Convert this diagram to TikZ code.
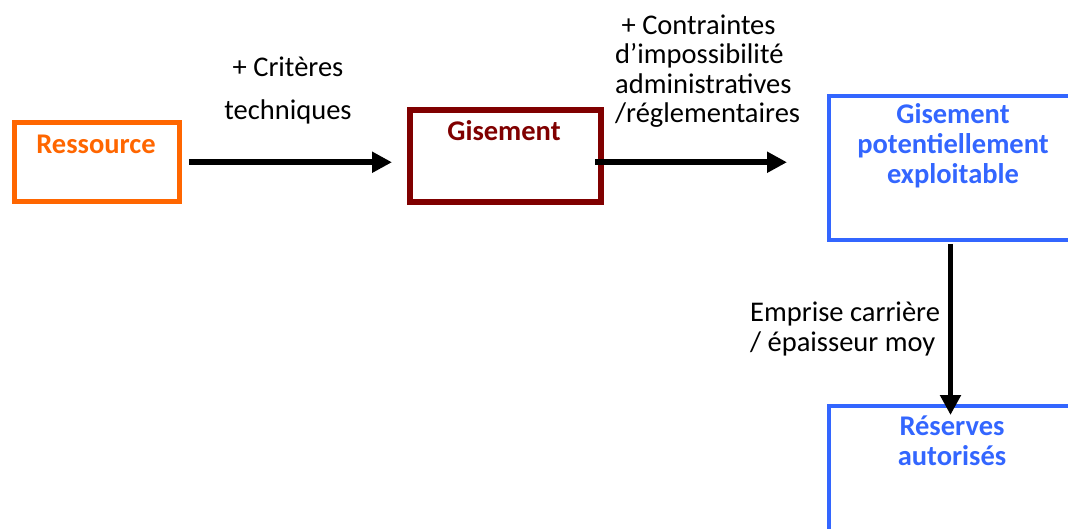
\documentclass[tikz,border=0pt]{standalone}
\usepackage{fontspec}
\setmainfont{Carlito}
\usetikzlibrary{arrows.meta}
\definecolor{resorange}{RGB}{255,102,0}
\definecolor{gisred}{RGB}{128,0,0}
\definecolor{gpeblue}{RGB}{51,102,255}
\tikzset{
  boxnode/.style={draw, rectangle, inner sep=0pt, outer sep=0pt},
  boxtext/.style={font=\fontsize{28.5}{30}\selectfont\bfseries, align=center, inner sep=0pt},
  lbl/.style={font=\fontsize{28.5}{29.5}\selectfont, inner sep=0pt},
  flow/.style={line width=5.5pt, -{Triangle[length=20pt,width=20pt]}}
}
\begin{document}
\begin{tikzpicture}[x=1pt,y=-1pt]
\useasboundingbox (0,0) rectangle (1068,529);
\begin{scope}
\clip (0,0) rectangle (1068,529);
% boxes
\node[boxnode, draw=resorange, line width=5pt, minimum width=164.5pt, minimum height=79.5pt] (res) at (96.75,162.25) {};
\node[boxnode, draw=gisred, line width=5.5pt, minimum width=191pt, minimum height=92pt] (gis) at (505.5,156) {};
\node[boxnode, draw=gpeblue, line width=4.5pt, minimum width=249pt, minimum height=144pt] (gpe) at (953.5,168) {};
\node[boxnode, draw=gpeblue, line width=4.5pt, minimum width=249pt, minimum height=200pt] (rsv) at (953.5,506) {};
\end{scope}
% box texts
\node[boxtext, text=resorange] (tres) at (96,144) {Ressource};
\node[boxtext, text=gisred] (tgis) at (504,131) {Gisement};
\node[boxtext, text=gpeblue] (tgpe) at (953,146) {Gisement\\potentiellement\\exploitable};
\node[boxtext, text=gpeblue] (trsv) at (952,441) {Réserves\\autorisés};
% connectors
\draw[flow] ([xshift=10pt]res.east) -- ([xshift=-18pt]res.east -| gis.west);
\draw[flow] ([xshift=-6pt]res.east -| gis.east) -- ([xshift=-42pt]res.east -| gpe.west);
\draw[flow] ([xshift=-3pt,yshift=-4pt]gpe.south) -- ([xshift=-3pt,yshift=-9pt]rsv.north);
% labels
\node[lbl] (lc1) at (288,67) {+ Critères};
\node[lbl] (lc2) at (288,112) {techniques};
\node[lbl, align=left, anchor=west] (lcon) at (615,71) {\ + Contraintes\\d’impossibilité\\administratives\\/réglementaires};
\node[lbl, align=left, anchor=west] (lemp) at (750,329) {Emprise carrière\\/ épaisseur moy};
\end{tikzpicture}
\end{document}
